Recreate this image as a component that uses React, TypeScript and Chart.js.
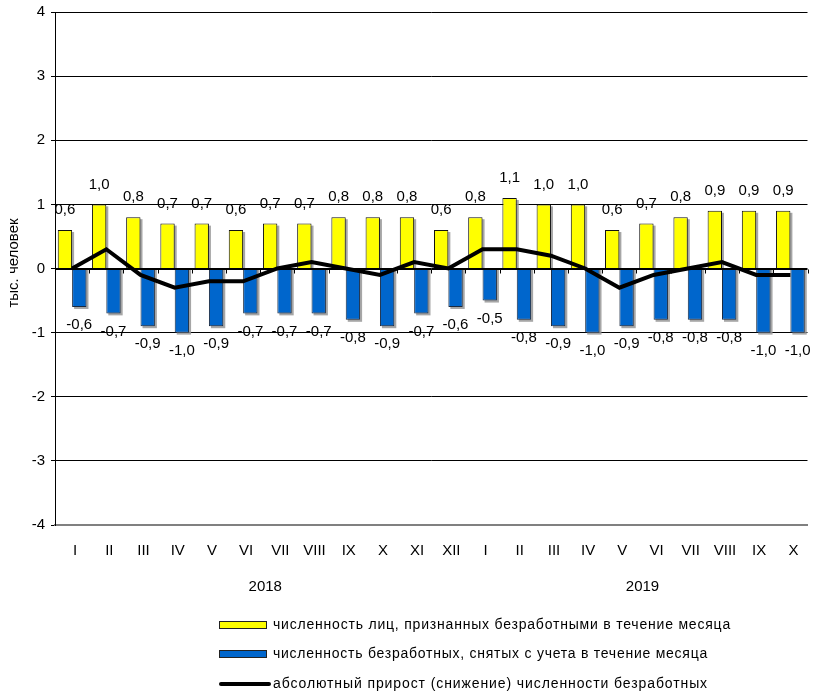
import { useEffect, useRef } from 'react';
import { Chart, registerables } from 'chart.js';

Chart.register(...registerables);

const months = ['I', 'II', 'III', 'IV', 'V', 'VI', 'VII', 'VIII', 'IX', 'X', 'XI', 'XII', 'I', 'II', 'III', 'IV', 'V', 'VI', 'VII', 'VIII', 'IX', 'X'];
const years = ['2018', '2019'];
const registered = [0.6, 1.0, 0.8, 0.7, 0.7, 0.6, 0.7, 0.7, 0.8, 0.8, 0.8, 0.6, 0.8, 1.1, 1.0, 1.0, 0.6, 0.7, 0.8, 0.9, 0.9, 0.9];
const removed = [-0.6, -0.7, -0.9, -1.0, -0.9, -0.7, -0.7, -0.7, -0.8, -0.9, -0.7, -0.6, -0.5, -0.8, -0.9, -1.0, -0.9, -0.8, -0.8, -0.8, -1.0, -1.0];
const netChange = [0, 0.3, -0.1, -0.3, -0.2, -0.2, 0, 0.1, 0, -0.1, 0.1, 0, 0.3, 0.3, 0.2, 0, -0.3, -0.1, 0, 0.1, -0.1, -0.1];
const yMin = -4;
const yMax = 4;
const yTitle = 'тыс. человек';
const seriesNames = [
  'численность лиц, признанных безработными в течение месяца',
  'численность безработных, снятых с учета в течение месяца',
  'абсолютный прирост (снижение) численности безработных',
];

const FONT = '"Liberation Sans", Arial, sans-serif';
const YELLOW = '#FFFF00';
const BLUE = '#0066CC';

const fmt = (v: number) => v.toFixed(1).replace('.', ',');

const decor = {
  id: 'decor',
  beforeDatasetsDraw(chart: any) {
    const ctx = chart.ctx;
    ctx.save();
    ctx.fillStyle = 'rgba(150,150,150,0.85)';
    [0, 1].forEach((di) => {
      const meta = chart.getDatasetMeta(di);
      meta.data.forEach((el: any) => {
        const p = el.getProps(['x', 'y', 'base', 'width'], true);
        const l = p.x - p.width / 2 + 2;
        let top: number, bottom: number;
        if (p.y < p.base) {
          top = p.y + 2;
          bottom = p.base;
        } else {
          top = p.base;
          bottom = p.y + 2;
        }
        ctx.fillRect(l, top, p.width, bottom - top);
      });
    });
    ctx.restore();
  },
  afterDatasetsDraw(chart: any) {
    const ctx = chart.ctx;
    const { left, right } = chart.chartArea;
    const yS = chart.scales.y;
    const y0 = Math.round(yS.getPixelForValue(0)) + 0.5;
    ctx.save();
    ctx.strokeStyle = '#000';
    ctx.lineWidth = 1;
    ctx.beginPath();
    ctx.moveTo(left, y0);
    ctx.lineTo(right, y0);
    const n = months.length;
    for (let k = 0; k <= n; k++) {
      const xk = Math.round(left + (k * (right - left)) / n) + 0.5;
      ctx.moveTo(xk, y0);
      ctx.lineTo(xk, y0 + 4);
    }
    ctx.stroke();

    // data labels
    ctx.fillStyle = '#000';
    ctx.font = `15px ${FONT}`;
    ctx.textAlign = 'center';
    ctx.textBaseline = 'middle';
    const m0 = chart.getDatasetMeta(0);
    m0.data.forEach((el: any, i: number) => {
      ctx.fillText(fmt(registered[i]), el.x, el.y - 20);
    });
    const m1 = chart.getDatasetMeta(1);
    m1.data.forEach((el: any, i: number) => {
      ctx.fillText(fmt(removed[i]), el.x, el.y + 18);
    });
    ctx.restore();
  },
  afterDraw(chart: any) {
    const ctx = chart.ctx;
    const xS = chart.scales.x;
    ctx.save();
    ctx.fillStyle = '#000';
    // y title
    ctx.font = `15px ${FONT}`;
    ctx.textAlign = 'center';
    ctx.textBaseline = 'middle';
    ctx.save();
    ctx.translate(14, 263);
    ctx.rotate(-Math.PI / 2);
    ctx.fillText(yTitle, 0, 0);
    ctx.restore();

    // years
    const c0 = (xS.getPixelForValue(0) + xS.getPixelForValue(11)) / 2 + 5;
    const c1 = (xS.getPixelForValue(12) + xS.getPixelForValue(21)) / 2 + 6;
    ctx.fillText(years[0], c0, 587);
    ctx.fillText(years[1], c1, 587);

    // legend
    const lx = 219;
    const tx = 273;
    const ys = [625, 654, 684];
    const targets = [458, 435, 435];
    ctx.textAlign = 'left';
    ctx.font = `14px ${FONT}`;
    seriesNames.forEach((name, i) => {
      const yy = ys[i];
      if (i < 2) {
        ctx.fillStyle = i === 0 ? YELLOW : BLUE;
        ctx.fillRect(lx, yy - 3.5, 48, 7);
        ctx.strokeStyle = '#222';
        ctx.lineWidth = 1;
        ctx.strokeRect(lx + 0.5, yy - 3.5, 47, 7);
      } else {
        ctx.strokeStyle = '#000';
        ctx.lineWidth = 4;
        ctx.lineCap = 'round';
        ctx.beginPath();
        ctx.moveTo(lx + 2, yy);
        ctx.lineTo(lx + 50, yy);
        ctx.stroke();
      }
      ctx.fillStyle = '#000';
      (ctx as any).letterSpacing = '0px';
      const w = ctx.measureText(name).width;
      const ls = (targets[i] - w) / name.length;
      (ctx as any).letterSpacing = `${ls}px`;
      ctx.fillText(name, tx, yy);
      (ctx as any).letterSpacing = '0px';
    });
    ctx.restore();
  },
};

export default function App() {
  const ref = useRef<HTMLCanvasElement | null>(null);
  useEffect(() => {
    if (!ref.current) return;
    const chart = new Chart(ref.current, {
      type: 'bar',
      data: {
        labels: months,
        datasets: [
          {
            type: 'bar',
            label: seriesNames[0],
            data: registered,
            backgroundColor: YELLOW,
            borderColor: '#111',
            borderWidth: 1,
            categoryPercentage: 0.84,
            barPercentage: 1,
            order: 1,
          },
          {
            type: 'bar',
            label: seriesNames[1],
            data: removed,
            backgroundColor: BLUE,
            borderColor: '#1a2a40',
            borderWidth: 1,
            categoryPercentage: 0.84,
            barPercentage: 1,
            order: 1,
          },
          {
            type: 'line',
            label: seriesNames[2],
            data: netChange,
            borderColor: '#000',
            borderWidth: 4,
            pointRadius: 0,
            tension: 0,
            fill: false,
            order: 0,
          } as any,
        ],
      },
      options: {
        responsive: false,
        maintainAspectRatio: false,
        animation: false,
        layout: { padding: { top: 12, right: 5.5, left: 0, bottom: 0 } },
        plugins: {
          legend: { display: false },
          tooltip: { enabled: false },
        },
        scales: {
          x: {
            type: 'category',
            offset: true,
            grid: { display: false, drawTicks: false },
            border: { display: true, color: '#808080', width: 2 },
            ticks: {
              color: '#000',
              font: { family: FONT, size: 15 },
              padding: 17,
              labelOffset: 3,
              maxRotation: 0,
              autoSkip: false,
            },
            afterFit(s: any) {
              s.height = 169;
              s.paddingLeft = 0;
              s.paddingRight = 0;
            },
          },
          y: {
            min: yMin,
            max: yMax,
            ticks: {
              stepSize: 1,
              color: '#000',
              font: { family: FONT, size: 15 },
              padding: 6,
              callback: (v: any) => String(v),
            },
            grid: {
              color: (c: any) => (c.tick && c.tick.value === yMin ? 'rgba(0,0,0,0)' : '#000'),
              tickColor: '#000',
              lineWidth: 1,
              tickLength: 4,
              drawTicks: true,
            },
            border: { display: true, color: '#000', width: 1 },
            afterFit(s: any) {
              s.width = 55;
              s.paddingTop = 0;
              s.paddingBottom = 0;
            },
          },
        },
      },
      plugins: [decor],
    });
    return () => chart.destroy();
  }, []);
  return (
    <div style={{ position: 'absolute', left: 0, top: 0, width: 813, height: 694, background: '#fff' }}>
      <canvas ref={ref} width={813} height={694} style={{ display: 'block' }} />
    </div>
  );
}
